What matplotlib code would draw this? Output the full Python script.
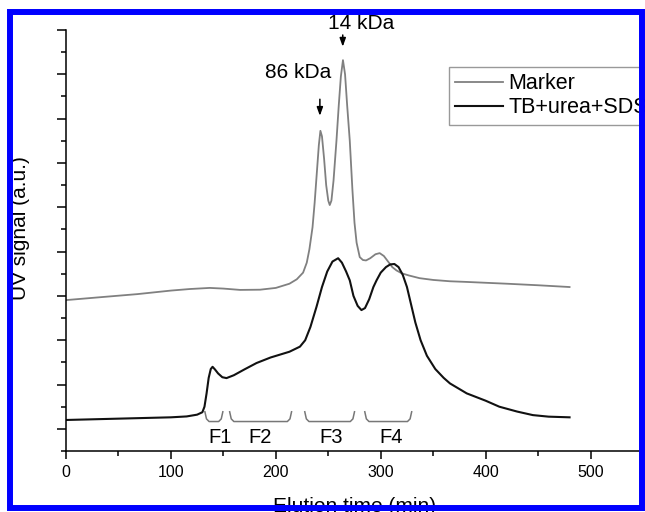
import matplotlib

matplotlib.use("Agg")
import matplotlib.pyplot as plt
import numpy as np
from matplotlib.patches import Rectangle

plt.rcParams["font.family"] = ["Liberation Sans", "DejaVu Sans"]

# Marker curve (grey)
marker_x = [0, 30, 68, 100, 118, 137, 150, 166, 185, 200, 213, 220, 226, 229.5, 232,
            235, 237, 239, 241, 242.5, 244, 246, 248, 250, 251.4, 253, 255, 257.8,
            260, 262, 264, 266, 268, 270.5, 273, 275, 277, 280, 283, 286, 290, 295,
            299, 303, 307, 311, 315, 320, 327, 337, 350, 366, 382, 420, 450, 480]
marker_y = [6.81, 6.93, 7.08, 7.24, 7.31, 7.36, 7.33, 7.27, 7.28, 7.36, 7.55, 7.75,
            8.05, 8.5, 9.1, 10.1, 11.2, 12.5, 13.8, 14.45, 14.2, 13.2, 12.0, 11.3,
            11.1, 11.3, 12.2, 14.0, 15.6, 16.9, 17.64, 17.0, 15.6, 14.0, 11.8, 10.3,
            9.4, 8.75, 8.62, 8.6, 8.7, 8.88, 8.93, 8.8, 8.55, 8.3, 8.15, 8.02, 7.92,
            7.8, 7.72, 7.66, 7.63, 7.55, 7.48, 7.4]

# TB+urea+SDS curve (black)
sample_x = [0, 50, 100, 115, 125, 130, 132, 134, 136, 138, 139.7, 142, 145, 149, 153,
            160, 170, 181.6, 195, 213, 223, 228, 233, 238.8, 244, 249, 254, 259.4,
            263, 267, 270.5, 274, 278, 281.6, 285, 289, 293, 296, 300, 305, 309, 313,
            317, 321, 325, 329, 333, 338, 344, 352, 360, 366, 382, 400, 413, 430,
            445, 460, 480]
sample_y = [1.40, 1.46, 1.52, 1.56, 1.64, 1.75, 2.0, 2.6, 3.3, 3.7, 3.8, 3.68, 3.5,
            3.33, 3.29, 3.42, 3.68, 3.97, 4.22, 4.48, 4.71, 5.0, 5.6, 6.51, 7.4, 8.1,
            8.55, 8.7, 8.5, 8.1, 7.7, 7.0, 6.55, 6.36, 6.45, 6.85, 7.4, 7.7, 8.05, 8.3,
            8.42, 8.44, 8.3, 7.95, 7.4, 6.6, 5.8, 5.0, 4.3, 3.7, 3.3, 3.05, 2.6, 2.27,
            2.0, 1.78, 1.62, 1.55, 1.52]

fraction_names = ["F1", "F2", "F3", "F4"]
fraction_start = [132.4, 156, 227.6, 284.8]
fraction_end = [149.5, 215, 275, 329.5]
fraction_label_x = [146.7, 185, 253, 310]

xticks = [0, 100, 200, 300, 400, 500]

W, H = 645, 512
fig = plt.figure(figsize=(W / 100, H / 100), dpi=100)
ax = fig.add_axes([66 / W, 61 / H, 577 / W, 421 / H])

ax.plot(marker_x, marker_y, color="#808080", lw=1.3, label="Marker")
ax.plot(sample_x, sample_y, color="#111111", lw=1.5, label="TB+urea+SDS")

# fraction brackets
top, bot = 1.77, 1.33
for name, x0, x1, lx in zip(fraction_names, fraction_start, fraction_end, fraction_label_x):
    bx = [x0, x0 + 1.5, x0 + 4, x1 - 4, x1 - 1.5, x1]
    by = [top, bot + 0.12, bot, bot, bot + 0.12, top]
    ax.plot(bx, by, color="#777777", lw=1.1)
    ax.text(lx, 0.59, name, ha="center", va="center", fontsize=14.5)

# peak annotations
arrow = dict(arrowstyle="-|>,head_length=0.5,head_width=0.18", color="black", lw=1.1)
ax.annotate("", xy=(242, 15.0), xytext=(242, 16.0), arrowprops=arrow)
ax.text(221, 17.1, "86 kDa", ha="center", va="center", fontsize=15)
ax.annotate("", xy=(263.8, 18.12), xytext=(263.8, 18.9), arrowprops=arrow,
            annotation_clip=False)
ax.text(281, 19.3, "14 kDa", ha="center", va="center", fontsize=15, clip_on=False)

ax.set_xlim(0, 550)
ax.set_ylim(0, 19)
ax.set_xticks(xticks)
ax.set_xticks(np.arange(50, 551, 100), minor=True)
ax.set_yticks(np.arange(1, 20, 2))
ax.set_yticks(np.arange(0, 19, 2), minor=True)
ax.set_yticklabels([])
ax.tick_params(axis="x", which="major", length=6, width=1.1, labelsize=11.5, pad=4)
ax.tick_params(axis="x", which="minor", length=3.6, width=1.1)
ax.tick_params(axis="y", which="major", length=6.5, width=1.1)
ax.tick_params(axis="y", which="minor", length=3.6, width=1.1)
for side in ("top", "right"):
    ax.spines[side].set_visible(False)
for side in ("left", "bottom"):
    ax.spines[side].set_linewidth(1.1)

ax.set_xlabel("Elution time (min)", fontsize=15)
ax.xaxis.set_label_coords(0.5, -0.11)
ax.set_ylabel("UV signal (a.u.)", fontsize=15)
ax.yaxis.set_label_coords(-0.062, 0.53)

leg = ax.legend(loc="upper left", bbox_to_anchor=(449 / W, (H - 67) / H),
                bbox_transform=fig.transFigure, fontsize=15.5, frameon=True,
                fancybox=False, handlelength=2.2, handletextpad=0.25,
                labelspacing=0.12, borderpad=0.3, borderaxespad=0)
leg.get_frame().set_edgecolor("#808080")
leg.get_frame().set_linewidth(1.0)

# blue frame around the picture
fig.patches.append(Rectangle((10 / W, 4 / H), 632 / W, 496 / H, transform=fig.transFigure,
                             fill=False, edgecolor="#0000ff", lw=4.3, zorder=5))

fig.savefig("out.png", dpi=100)
